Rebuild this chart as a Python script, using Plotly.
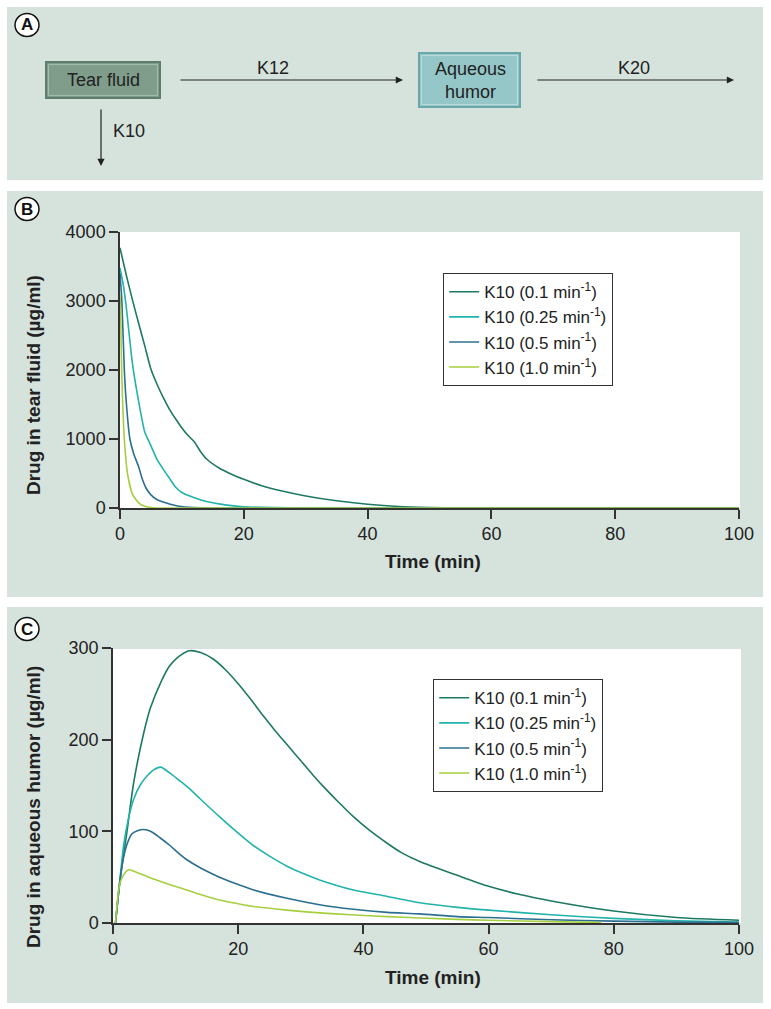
import plotly.graph_objects as go

W, H = 771, 1009

# ---------------- data ----------------
series_names = ["K10 (0.1 min<sup>-1</sup>)", "K10 (0.25 min<sup>-1</sup>)",
                "K10 (0.5 min<sup>-1</sup>)", "K10 (1.0 min<sup>-1</sup>)"]
series_colors = ["#1d7a62", "#22b3ab", "#2b6f90", "#a5cf3f"]

# Panel B: drug in tear fluid
tear_t_01 = [0, 1, 2, 3, 4, 5, 6, 7, 8, 9, 10, 11, 12, 13, 14, 16, 18, 20, 23, 26, 30, 35, 40, 45, 50, 55, 60, 70, 100]
tear_v_01 = [3770, 3380, 3020, 2680, 2350, 2010, 1790, 1600, 1430, 1290, 1160, 1050, 960, 820, 710, 580, 490, 415, 320, 250, 175, 105, 55, 22, 8, 2, 0, 0, 0]
tear_t_025 = [0, 0.5, 1, 2, 3, 4, 5, 6, 7, 8, 9, 10, 12, 14, 16, 18, 20, 25, 30, 100]
tear_v_025 = [3480, 3250, 2920, 2100, 1550, 1100, 900, 700, 560, 430, 300, 225, 150, 95, 60, 35, 18, 5, 0, 0]
tear_t_05 = [0, 0.3, 0.7, 1, 1.6, 2.2, 3, 3.6, 4.2, 5, 6, 7.5, 9.5, 12, 15, 100]
tear_v_05 = [3400, 3000, 2000, 1550, 1000, 790, 600, 420, 290, 190, 120, 72, 25, 6, 0, 0]
tear_t_10 = [0, 0.15, 0.27, 0.7, 1.24, 2, 3, 4, 4.75, 6, 100]
tear_v_10 = [3100, 2600, 2000, 1000, 483, 200, 75, 25, 10, 0, 0]

# Panel C: drug in aqueous humor
aq_t_01 = [0.4, 1, 1.5, 2.2, 3.3, 4.9, 6, 7.6, 9, 10.2, 12.2, 14, 16, 18, 20, 22, 24, 26, 28, 30, 32, 34, 36, 38.4, 41, 43.8, 46, 49, 55, 60, 65, 70, 80, 90, 100]
aq_v_01 = [0, 40, 65, 98, 153, 207, 235, 262, 280, 289, 297, 295, 288, 276, 261, 244, 226, 209, 193, 177, 161, 146, 132, 116, 101, 87, 77, 67, 52, 40, 31, 24, 13, 6, 3]
aq_t_025 = [0.4, 1, 1.7, 2.5, 3.3, 4.3, 5.4, 6.5, 7.6, 9, 10.5, 11.8, 14, 17, 20, 22.5, 25, 27.8, 30, 33, 38.4, 43.8, 49, 55, 60, 70, 80, 90, 100]
aq_v_025 = [0, 40, 85, 115, 135, 150, 160, 167, 170, 164, 156, 149, 135, 116, 98, 84, 73, 62, 55, 47, 36, 29, 22, 17, 14, 9, 5, 2.5, 1]
aq_t_05 = [0.4, 1, 1.5, 2.2, 3, 4, 4.9, 6, 7.5, 9.2, 10.5, 11.8, 14, 17, 20, 22.5, 27.8, 33, 38.4, 43.8, 49, 55, 60, 70, 80, 90, 100]
aq_v_05 = [0, 40, 65, 85, 97, 101, 102, 100, 93, 84, 76, 69, 60, 50, 42, 36, 27, 20, 15, 11.6, 10, 7, 6, 3.5, 2, 1, 0.5]
aq_t_10 = [0.4, 1, 1.5, 2.5, 3.5, 5, 6.5, 9, 11.8, 14, 17, 20, 22.5, 27.8, 33, 38, 43.8, 49, 55, 60, 70, 78]
aq_v_10 = [0, 40, 50, 58, 56, 52, 48, 42, 36, 31, 25, 21, 18, 14, 11, 9, 7, 5.5, 4, 3, 1.5, 0.5]

tear_series = [(tear_t_01, tear_v_01), (tear_t_025, tear_v_025), (tear_t_05, tear_v_05), (tear_t_10, tear_v_10)]
aq_series = [(aq_t_01, aq_v_01), (aq_t_025, aq_v_025), (aq_t_05, aq_v_05), (aq_t_10, aq_v_10)]

x_ticks = [0, 20, 40, 60, 80, 100]
tear_ticks = [0, 1000, 2000, 3000, 4000]
aq_ticks = [0, 100, 200, 300]

# ---------------- helpers ----------------
def px(x):
    return x / W

def py(y):
    return 1 - y / H

BG = "#d6e3dc"
FONT = "Liberation Sans, Arial, Helvetica, sans-serif"
TXT = "#222222"

fig = go.Figure()

for (t, v), name, col in zip(tear_series, series_names, series_colors):
    fig.add_trace(go.Scatter(x=t, y=v, mode="lines", name=name,
                             line=dict(color=col, width=1.6, shape="spline", smoothing=0.5),
                             xaxis="x", yaxis="y", legend="legend"))
for (t, v), name, col in zip(aq_series, series_names, series_colors):
    fig.add_trace(go.Scatter(x=t, y=v, mode="lines", name=name,
                             line=dict(color=col, width=1.6, shape="spline", smoothing=0.7),
                             xaxis="x2", yaxis="y2", legend="legend2"))

shapes = []
# panel backgrounds
for (y0, y1) in [(7, 180), (191, 597), (607, 1003)]:
    shapes.append(dict(type="rect", xref="paper", yref="paper", layer="below",
                       x0=px(7), x1=px(763), y0=py(y1), y1=py(y0),
                       fillcolor=BG, line=dict(width=0)))
# white plotting areas
shapes.append(dict(type="rect", xref="paper", yref="paper", layer="below",
                   x0=px(120), x1=px(740), y0=py(508), y1=py(232),
                   fillcolor="white", line=dict(width=0)))
shapes.append(dict(type="rect", xref="paper", yref="paper", layer="below",
                   x0=px(113), x1=px(741), y0=py(923), y1=py(649),
                   fillcolor="white", line=dict(width=0)))
# boxes in panel A (with a light bevel)
shapes.append(dict(type="rect", xref="paper", yref="paper",
                   x0=px(46), x1=px(160), y0=py(98), y1=py(62),
                   fillcolor="#7f9d8a", line=dict(color="#5e7d6a", width=2)))
shapes.append(dict(type="rect", xref="paper", yref="paper",
                   x0=px(48.5), x1=px(157.5), y0=py(95.5), y1=py(64.5),
                   fillcolor="rgba(0,0,0,0)", line=dict(color="#a3bcad", width=1)))
shapes.append(dict(type="rect", xref="paper", yref="paper",
                   x0=px(419), x1=px(520), y0=py(107), y1=py(53),
                   fillcolor="#95c7c8", line=dict(color="#6ba7aa", width=2)))
shapes.append(dict(type="rect", xref="paper", yref="paper",
                   x0=px(421.5), x1=px(517.5), y0=py(104.5), y1=py(55.5),
                   fillcolor="rgba(0,0,0,0)", line=dict(color="#b8dcdc", width=1)))
# panel letter circles
for cy in [25, 209, 629]:
    shapes.append(dict(type="circle", xref="paper", yref="paper",
                       x0=px(15), x1=px(39), y0=py(cy + 11.5), y1=py(cy - 11.5),
                       fillcolor="white", line=dict(color="#111111", width=1.5)))

def label(text, x, y, size=18, angle=0, color=TXT):
    return dict(x=px(x), y=py(y), xref="paper", yref="paper", text=text,
                showarrow=False, textangle=angle, xanchor="center", yanchor="middle",
                font=dict(family=FONT, size=size, color=color))

annotations = []
for letter, cy in [("A", 25), ("B", 209), ("C", 629)]:
    annotations.append(label("<b>" + letter + "</b>", 27, cy, size=17, color="#111111"))
# box texts
annotations.append(label("Tear fluid", 103, 80))
annotations.append(label("Aqueous<br>humor", 470, 80))

# arrows
def arrow(x0, y0, x1, y1):
    return dict(x=px(x1), y=py(y1), xref="paper", yref="paper", ax=x0 - x1, ay=y0 - y1,
                axref="pixel", ayref="pixel", text="", showarrow=True, arrowhead=2,
                arrowsize=1.2, arrowwidth=1.2, arrowcolor="#222222")
annotations.append(arrow(179, 80, 403, 80))
annotations.append(arrow(536, 80, 734, 80))
annotations.append(arrow(101, 108, 101, 166))
for text, x, y in [("K12", 273, 68), ("K20", 634, 68), ("K10", 129, 131)]:
    annotations.append(label(text, x, y))
# axis titles
annotations.append(label("<b>Time (min)</b>", 433, 561, size=19))
annotations.append(label("<b>Time (min)</b>", 433, 977, size=19))
annotations.append(label("<b>Drug in tear fluid (µg/ml)</b>", 33, 385, size=19, angle=-90))
annotations.append(label("<b>Drug in aqueous humor (µg/ml)</b>", 33, 807, size=19, angle=-90))

axis_common = dict(showgrid=False, zeroline=False, showline=True, linecolor="#333333",
                   linewidth=1.5, ticks="outside", ticklen=9, tickwidth=1.5,
                   tickcolor="#333333", automargin=False,
                   tickfont=dict(family=FONT, size=18, color=TXT))

legend_common = dict(bgcolor="white", bordercolor="#333333", borderwidth=1.2,
                     font=dict(family=FONT, size=17, color=TXT),
                     xanchor="left", yanchor="top", tracegroupgap=0)

fig.update_layout(
    template="none",
    width=W, height=H, margin=dict(l=0, r=0, t=0, b=0, pad=0, autoexpand=False),
    paper_bgcolor="white", plot_bgcolor="rgba(0,0,0,0)",
    showlegend=True,
    xaxis=dict(domain=[px(120), px(739)], range=[0, 100], tickvals=x_ticks,
               anchor="y", **axis_common),
    yaxis=dict(domain=[py(508), py(232)], range=[0, 4000], tickvals=tear_ticks,
               anchor="x", **axis_common),
    xaxis2=dict(domain=[px(113), px(739)], range=[0, 100], tickvals=x_ticks,
                anchor="y2", **axis_common),
    yaxis2=dict(domain=[py(923), py(648)], range=[0, 300], tickvals=aq_ticks,
                anchor="x2", **axis_common),
    legend=dict(x=px(443), y=py(273), **legend_common),
    legend2=dict(x=px(433), y=py(679), **legend_common),
    shapes=shapes, annotations=annotations,
)

fig.write_html("out.html", config={"displayModeBar": False},
               post_script="document.body.style.margin='0';document.body.style.padding='0';")
